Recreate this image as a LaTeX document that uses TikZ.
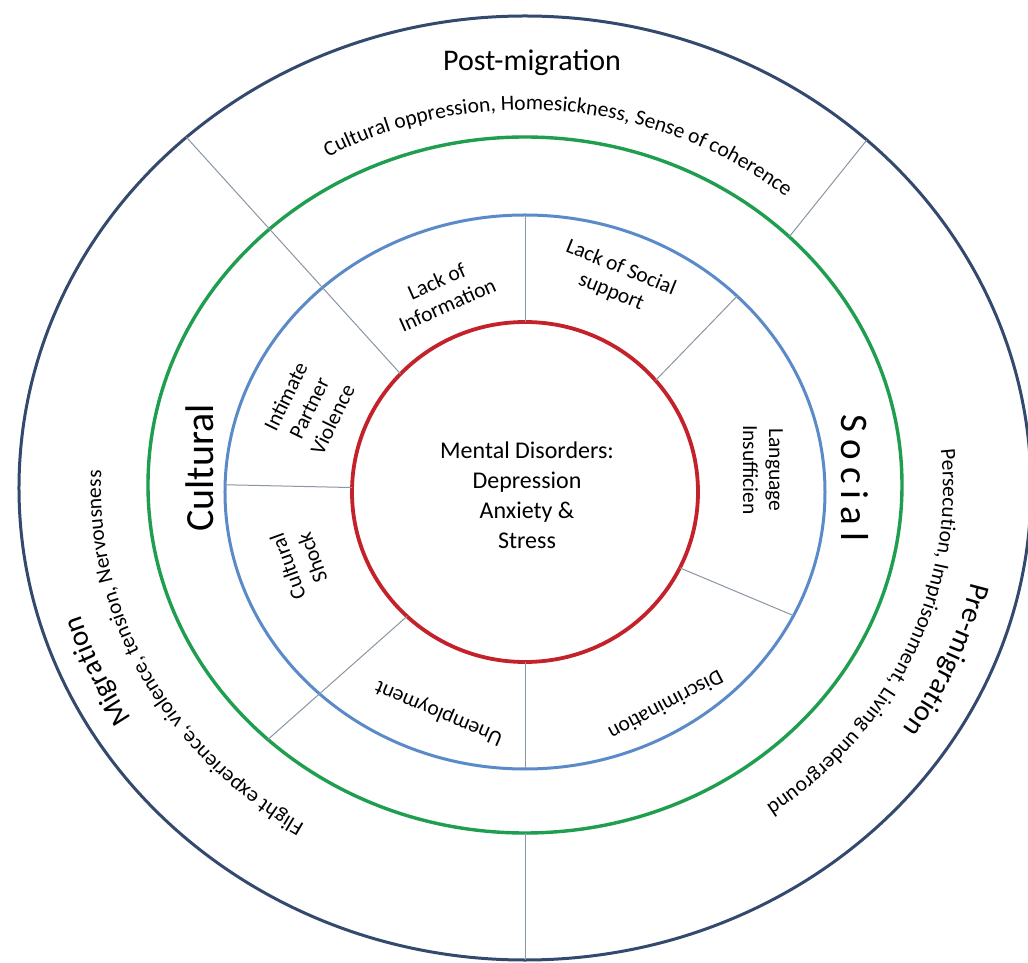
\documentclass[tikz,border=0pt]{standalone}
\usepackage{fontspec}
\setmainfont{Carlito}
\usetikzlibrary{decorations.text,calc}
\definecolor{outerc}{HTML}{34496E}
\definecolor{greenc}{HTML}{1E9E4E}
\definecolor{bluec}{HTML}{5B8AC9}
\definecolor{redc}{HTML}{C4222B}
\definecolor{spokec}{HTML}{8A96A3}
\begin{document}
\begin{tikzpicture}[x=1pt,y=1pt,
  ring/.style={line width=3pt},
  spoke/.style={line width=1pt, draw=spokec},
  lab/.style={font=\fontsize{21.5}{26}\selectfont, align=center, inner sep=0pt},
  big/.style={font=\fontsize{40}{40}\selectfont, inner sep=0pt},
  arctext/.style={decorate, decoration={text along path, text align=center, text={#1}}}]
\fill[white] (-525,-475) rectangle (503,488);
\useasboundingbox (-525,-475) rectangle (503,488);
\coordinate (O) at (0,0);
\coordinate (G) at (0,3);
\coordinate (I) at (0,-4);
% rings
\draw[ring, outerc] (O) ellipse [x radius=506, y radius=472];
\draw[ring, greenc, line width=3.4pt] (G) ellipse [x radius=377, y radius=348];
\draw[ring, bluec] (I) ellipse [x radius=300, y radius=277];
\draw[ring, redc, line width=3.8pt] (I) ellipse [x radius=173, y radius=170];
% spoke end points
\coordinate (r136) at ($(I)+(136:173 and 170)$);
\coordinate (o132) at (132:506 and 472);
\coordinate (r90) at ($(I)+(90:173 and 170)$);
\coordinate (b90) at ($(I)+(90:300 and 277)$);
\coordinate (r41) at ($(I)+(41:173 and 170)$);
\coordinate (b45) at ($(I)+(45:300 and 277)$);
\coordinate (g45) at ($(G)+(45.5:377 and 348)$);
\coordinate (o47) at (47.5:506 and 472);
\coordinate (r179) at ($(I)+(178.5:173 and 170)$);
\coordinate (b179) at ($(I)+(178.5:300 and 277)$);
\coordinate (r227) at ($(I)+(227:173 and 170)$);
\coordinate (g227) at ($(G)+(227:377 and 348)$);
\coordinate (r270) at ($(I)+(270:173 and 170)$);
\coordinate (b270) at ($(I)+(270:300 and 277)$);
\coordinate (g270) at ($(G)+(270:377 and 348)$);
\coordinate (o270) at (270:506 and 472);
\coordinate (r333) at ($(I)+(333.5:173 and 170)$);
\coordinate (b333) at ($(I)+(333.5:300 and 277)$);
\draw[spoke] (r136) -- (o132);
\draw[spoke] (r90) -- (b90);
\draw[spoke] (r41) -- (b45);
\draw[spoke] (g45) -- (o47);
\draw[spoke] (r179) -- (b179);
\draw[spoke] (r227) -- (g227);
\draw[spoke] (r270) -- (b270);
\draw[spoke] (g270) -- (o270);
\draw[spoke] (r333) -- (b333);
% centre
\node[lab, font=\fontsize{24}{30}\selectfont] (centre) at (2,-7) {Mental Disorders:\\Depression\\Anxiety \&\\Stress};
% inner ring labels
\node[lab, rotate=24] (info) at (-83,195) {Lack of\\Information};
\node[lab, rotate=-22] (social) at (91,208) {Lack of Social\\support};
\node[lab, rotate=-90] (lang) at (238,18) {Language\\Insufficien};
\node[lab, rotate=208] (discr) at (141,-218) {Discrimination};
\node[lab, rotate=157] (unemp) at (-86,-225) {Unemployment};
\node[lab, rotate=110] (shock) at (-225,-74) {Cultural\\Shock};
\node[lab, rotate=64] (ipv) at (-216,80) {Intimate\\Partner\\Violence};
% middle ring labels
\node[big, rotate=90] (cultural) at (-325,20) {Cultural};
\node[big, rotate=-90, font=\fontsize{39}{39}\selectfont\addfontfeature{LetterSpace=18}] (soc) at (330,10) {Social};
% outer ring
\node[inner sep=0pt, font=\fontsize{30}{30}\selectfont] (post) at (7,425) {Post-migration};
\path[arctext={|\fontsize{21.5}{21.5}\selectfont|Cultural oppression, Homesickness, Sense of coherence}]
  (130:408 and 378) arc[start angle=130, end angle=39, x radius=408, y radius=378];
\path[arctext={|\fontsize{29}{29}\selectfont|Migration}]
  (244:465 and 433) arc[start angle=244, end angle=164, x radius=465, y radius=433];
\path[arctext={|\fontsize{21.5}{21.5}\selectfont|Flight experience, violence, tension, Nervousness}]
  (257.5:424 and 394) arc[start angle=257.5, end angle=157.5, x radius=424, y radius=394];
\path[arctext={|\fontsize{21.5}{21.5}\selectfont|Persecution, Imprisonment, Living underground}]
  (26:418 and 389) arc[start angle=26, end angle=-74, x radius=418, y radius=389];
\path[arctext={|\fontsize{29}{29}\selectfont|Pre-migration}]
  (17:458 and 427) arc[start angle=17, end angle=-63, x radius=458, y radius=427];
\end{tikzpicture}
\end{document}
